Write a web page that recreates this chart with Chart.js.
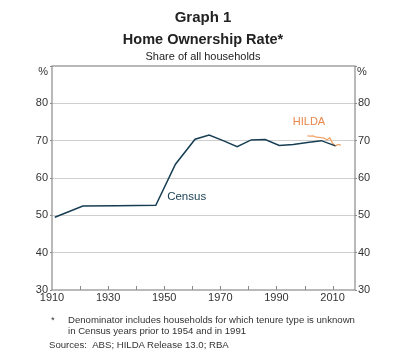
<!DOCTYPE html>
<html>
<head>
<meta charset="utf-8">
<script src="https://cdn.jsdelivr.net/npm/chart.js@4.4.1/dist/chart.umd.min.js"></script>
<style>
  html, body { margin: 0; padding: 0; background: #fff; }
  #wrap { position: relative; width: 400px; height: 357px; font-family: "Liberation Sans", Arial, sans-serif; color: #222; }
  #c { position: absolute; left: 0; top: 0; }
  .t { position: absolute; left: 0; width: 406px; text-align: center; white-space: nowrap; }
  .f { position: absolute; white-space: nowrap; font-size: 9.6px; color: #333; }
</style>
</head>
<body>
<div id="wrap">
  <canvas id="c" width="400" height="357"></canvas>
  <div class="t" style="top:8px;font-size:15px;font-weight:bold;">Graph 1</div>
  <div class="t" style="top:31px;font-size:14.5px;font-weight:bold;">Home Ownership Rate*</div>
  <div class="t" style="top:50px;font-size:11px;color:#222;">Share of all households</div>
  <div class="f" style="left:51px;top:314px;">*</div>
  <div class="f" style="left:68px;top:314px;">Denominator includes households for which tenure type is unknown</div>
  <div class="f" style="left:68px;top:325px;">in Census years prior to 1954 and in 1991</div>
  <div class="f" style="left:49px;top:339px;">Sources:&nbsp;&nbsp;ABS; HILDA Release 13.0; RBA</div>
</div>
<script>
const censusYears = [1911, 1921, 1933, 1947, 1954, 1961, 1966, 1971, 1976, 1981, 1986, 1991, 1996, 2001, 2006, 2011];
const censusValues = [49.5, 52.5, 52.6, 52.7, 63.7, 70.4, 71.5, 70.0, 68.4, 70.2, 70.3, 68.7, 69.0, 69.5, 70.0, 68.6];
const hildaYears = [2001, 2002, 2003, 2004, 2005, 2006, 2007, 2008, 2009, 2010, 2011, 2012, 2013];
const hildaValues = [71.3, 71.2, 71.3, 71.0, 70.9, 70.8, 70.7, 70.2, 70.8, 69.3, 68.6, 69.0, 68.8];
const yTicks = [30, 40, 50, 60, 70, 80, 90];
const xLabelYears = [1910, 1930, 1950, 1970, 1990, 2010];
const xMinorYears = [1920, 1930, 1940, 1950, 1960, 1970, 1980, 1990, 2000, 2010];

const censusColor = '#163d52';
const hildaColor = '#f0a46a';
const font = { family: '"Liberation Sans", Arial, sans-serif', size: 11 };

const toPts = (xs, ys) => xs.map((x, i) => ({ x: x, y: ys[i] }));

const decor = {
  id: 'decor',
  afterDatasetsDraw(chart) {
    const ctx = chart.ctx;
    const a = chart.chartArea;
    const xs = chart.scales.x, ys = chart.scales.y;
    ctx.save();
    ctx.strokeStyle = '#8a8a8a';
    ctx.lineWidth = 1.2;
    ctx.strokeRect(a.left, a.top, a.right - a.left, a.bottom - a.top);
    ctx.beginPath();
    xMinorYears.forEach(v => {
      const px = Math.round(xs.getPixelForValue(v)) + 0.5;
      ctx.moveTo(px, a.bottom);
      ctx.lineTo(px, a.bottom - 4);
    });
    ctx.lineWidth = 1;
    ctx.stroke();
    ctx.fillStyle = '#333';
    ctx.font = '11px "Liberation Sans", Arial, sans-serif';
    ctx.textBaseline = 'middle';
    ctx.textAlign = 'right';
    ctx.fillText('%', a.left - 4, a.top + 6);
    ctx.textAlign = 'left';
    ctx.fillText('%', a.right + 2, a.top + 6);
    ctx.textAlign = 'center';
    ctx.font = '11.5px "Liberation Sans", Arial, sans-serif';
    ctx.fillStyle = censusColor;
    ctx.fillText('Census', xs.getPixelForValue(1958), ys.getPixelForValue(54.9));
    ctx.font = '11px "Liberation Sans", Arial, sans-serif';
    ctx.fillStyle = '#e8874a';
    ctx.fillText('HILDA', xs.getPixelForValue(2001.6), ys.getPixelForValue(75.0));
    ctx.restore();
  }
};

new Chart(document.getElementById('c'), {
  type: 'line',
  data: {
    datasets: [
      { label: 'Census', data: toPts(censusYears, censusValues), borderColor: censusColor, borderWidth: 1.5, pointRadius: 0, tension: 0, yAxisID: 'y' },
      { label: 'HILDA', data: toPts(hildaYears, hildaValues), borderColor: hildaColor, borderWidth: 1.3, pointRadius: 0, tension: 0, yAxisID: 'y' }
    ]
  },
  options: {
    responsive: false,
    animation: false,
    events: [],
    layout: { padding: { left: 0, right: 0, top: 66, bottom: 47 } },
    plugins: { legend: { display: false }, tooltip: { enabled: false }, title: { display: false } },
    scales: {
      x: {
        type: 'linear', min: 1910, max: 2018,
        afterBuildTicks: s => { s.ticks = xLabelYears.map(v => ({ value: v })); },
        afterFit: s => { s.height = 20; },
        ticks: { font: font, color: '#333', padding: 1, maxRotation: 0, autoSkip: false, callback: v => String(v) },
        grid: { display: false, drawTicks: false },
        border: { display: false }
      },
      y: {
        position: 'left', min: 30, max: 90,
        afterBuildTicks: s => { s.ticks = yTicks.map(v => ({ value: v })); },
        afterFit: s => { s.width = 52; },
        ticks: { font: font, color: '#333', padding: 2, callback: v => (v === 90 ? '' : String(v)) },
        grid: {
          color: ctx => (ctx.tick && (ctx.tick.value === 30 || ctx.tick.value === 90)) ? 'rgba(0,0,0,0)' : '#cfcfcf',
          lineWidth: 1, tickLength: 2, tickColor: '#8a8a8a', drawTicks: true
        },
        border: { display: false }
      },
      y2: {
        position: 'right', min: 30, max: 90,
        afterBuildTicks: s => { s.ticks = yTicks.map(v => ({ value: v })); },
        afterFit: s => { s.width = 45; },
        ticks: { font: font, color: '#333', padding: 1, callback: v => (v === 90 ? '' : String(v)) },
        grid: { drawOnChartArea: false, tickLength: 2, tickColor: '#8a8a8a' },
        border: { display: false }
      }
    }
  },
  plugins: [decor]
});
</script>
</body>
</html>
